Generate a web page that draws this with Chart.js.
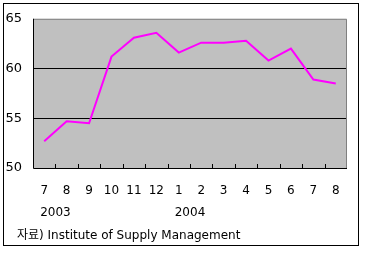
<!DOCTYPE html>
<html>
<head>
<meta charset="utf-8">
<script src="https://cdn.jsdelivr.net/npm/chart.js@4"></script>
<style>
  html, body { margin: 0; padding: 0; background: #fff; }
  #wrap { width: 367px; height: 253px; position: relative; }
</style>
</head>
<body>
<div id="wrap"><canvas id="pmiChart" width="367" height="253"></canvas></div>
<script>
// months along the bottom, 2003-07 .. 2004-08
const months = ["7", "8", "9", "10", "11", "12", "1", "2", "3", "4", "5", "6", "7", "8"];
// ISM index values
const pmiValues = [52.7, 54.7, 54.5, 61.2, 63.1, 63.6, 61.6, 62.6, 62.6, 62.8, 60.8, 62.0, 58.9, 58.5];
// year captions: text and the pair of months they sit between
const yearLabels = ["2003", "2004"];
const yearAt = [[0, 1], [6, 7]];
const sourceNote = "자료) Institute of Supply Management";

const FONT = "'DejaVu Sans', 'Noto Sans CJK KR', sans-serif";

// frame, plot border, tick marks and the extra texts
const decorations = {
    id: "decorations",
    beforeDraw(chart) {
        const ctx = chart.ctx;
        const a = chart.chartArea;
        ctx.save();
        ctx.fillStyle = "#fff";
        ctx.fillRect(0, 0, chart.width, chart.height);
        ctx.fillStyle = "#c0c0c0";
        ctx.fillRect(a.left, a.top, a.right - a.left, a.bottom - a.top);
        ctx.restore();
    },
    afterDraw(chart) {
        const ctx = chart.ctx;
        const a = chart.chartArea;
        const x = chart.scales.x;
        ctx.save();
        // outer frame
        ctx.strokeStyle = "#000";
        ctx.lineWidth = 1;
        ctx.strokeRect(3.5, 3.5, 355, 242);
        // gray top/right plot border
        ctx.strokeStyle = "#808080";
        ctx.beginPath();
        ctx.moveTo(a.left, a.top + 0.5);
        ctx.lineTo(a.right - 0.5, a.top + 0.5);
        ctx.lineTo(a.right - 0.5, a.bottom);
        ctx.stroke();
        // black axes
        ctx.strokeStyle = "#000";
        ctx.beginPath();
        ctx.moveTo(a.left + 0.5, a.top);
        ctx.lineTo(a.left + 0.5, a.bottom + 0.5);
        ctx.lineTo(a.right, a.bottom + 0.5);
        ctx.stroke();
        // small ticks between categories, pointing up
        const step = (a.right - a.left) / months.length;
        ctx.beginPath();
        for (let i = 1; i < months.length; i++) {
            const px = Math.round(a.left + step * i) + 0.5;
            ctx.moveTo(px, a.bottom);
            ctx.lineTo(px, a.bottom - 4);
        }
        ctx.stroke();
        // year captions
        ctx.fillStyle = "#000";
        ctx.font = "12px " + FONT;
        ctx.textAlign = "center";
        ctx.textBaseline = "middle";
        yearLabels.forEach(function(label, i){
            const p = (x.getPixelForValue(yearAt[i][0]) + x.getPixelForValue(yearAt[i][1])) / 2;
            ctx.fillText(label, p, 213);
        });
        // source line
        ctx.textAlign = "left";
        ctx.fillText(sourceNote, 17, 236);
        ctx.restore();
    }
};

new Chart(document.querySelector("#pmiChart"), {
    type: "line",
    data: {
        labels: months,
        datasets: [{
            data: pmiValues,
            borderColor: "#ff00ff",
            borderWidth: 2,
            pointRadius: 0,
            tension: 0,
            fill: false
        }]
    },
    options: {
        responsive: false,
        animation: false,
        events: [],
        layout: { padding: { top: 16, right: 20, left: 0, bottom: 0 } },
        plugins: { legend: { display: false }, tooltip: { enabled: false } },
        scales: {
            x: {
                offset: true,
                afterFit: function(s){ s.height = 85; },
                grid: { display: false, offset: true },
                border: { display: false },
                ticks: {
                    color: "#000",
                    font: { family: FONT, size: 12 },
                    padding: 8,
                    maxRotation: 0,
                    autoSkip: false
                }
            },
            y: {
                min: 50,
                max: 65,
                afterFit: function(s){ s.width = 33; },
                border: { display: false },
                grid: {
                    drawTicks: false,
                    color: function(c){
                        return (c.tick.value === 55 || c.tick.value === 60) ? "#000" : "rgba(0,0,0,0)";
                    }
                },
                ticks: {
                    stepSize: 5,
                    color: "#000",
                    font: { family: FONT, size: 13 },
                    padding: 11
                }
            }
        }
    },
    plugins: [decorations]
});
</script>
</body>
</html>
